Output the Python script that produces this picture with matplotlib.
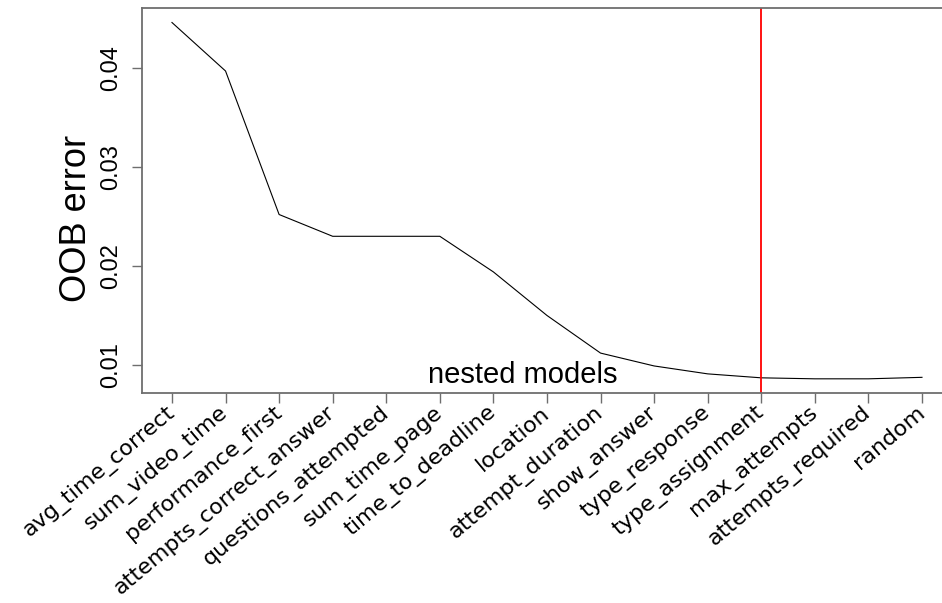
import numpy as np
import matplotlib
matplotlib.use("Agg")
import matplotlib.pyplot as plt

features = ["avg_time_correct", "sum_video_time", "performance_first",
            "attempts_correct_answer", "questions_attempted", "sum_time_page",
            "time_to_deadline", "location", "attempt_duration", "show_answer",
            "type_response", "type_assignment", "max_attempts",
            "attempts_required", "random"]
oob_error = [0.0446, 0.0397, 0.0252, 0.0230, 0.0230, 0.0230, 0.0194,
             0.0150, 0.0112, 0.0099, 0.0091, 0.0087, 0.0086, 0.0086, 0.00875]
cutoff = "type_assignment"
yticks = [0.01, 0.02, 0.03, 0.04]

x = np.arange(1, len(features) + 1)

fig = plt.figure(figsize=(9.42, 6.03), dpi=100)
ax = fig.add_axes([0.1507, 0.3488, 0.8599, 0.6385])

ax.plot(x, oob_error, color="black", lw=0.8)
ax.axvline(x[features.index(cutoff)], color="red", lw=1.3)

ax.set_xlim(0.44, 15.56)
ax.set_ylim(0.0072, 0.0461)

for s in ax.spines.values():
    s.set_color("#6e6e6e")
    s.set_linewidth(1.3)

ax.tick_params(axis="x", length=7.5, width=1, color="#6e6e6e", pad=5)
ax.tick_params(axis="y", length=7.5, width=1, color="#6e6e6e", pad=7)

ax.set_xticks(x)
ax.set_xticklabels(features, rotation=40, ha="right", va="center",
                   rotation_mode="anchor", fontsize=16, family="DejaVu Sans")

ax.set_yticks(yticks)
ax.set_yticklabels([f"{v:.2f}" for v in yticks], rotation=90, va="center",
                   fontsize=17, family="Liberation Sans")

fig.text(0.0814, 0.6385, "OOB error", rotation=90, ha="center", va="center",
         fontsize=26, family="Liberation Sans")
fig.text(0.5552, 0.3648, "nested models", ha="center", va="baseline",
         fontsize=21, family="Liberation Sans")

fig.savefig("out.png", dpi=100)
